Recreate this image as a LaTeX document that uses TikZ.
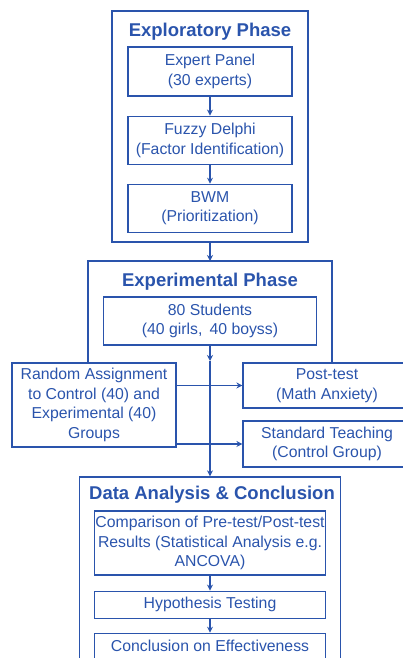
\documentclass[tikz,border=0pt]{standalone}
\usepackage{fontspec}
\setmainfont{Liberation Sans}
\usetikzlibrary{positioning,arrows.meta}
\definecolor{phaseblue}{RGB}{42,84,172}

\begin{document}
\begin{tikzpicture}[x=1pt,y=1pt,
    box/.style={draw=phaseblue,line width=1.1pt,text=phaseblue,align=center,inner sep=0pt,
      minimum width=164pt,font=\fontsize{15.8}{19.8}\selectfont},
    frame/.style={draw=phaseblue,line width=1.3pt,inner sep=0pt},
    phasetitle/.style={text=phaseblue,font=\bfseries\fontsize{18.5}{22}\selectfont},
    arr/.style={draw=phaseblue,line width=1.1pt,-{Stealth[length=6pt,width=6pt]}}]
  \useasboundingbox (0,0) rectangle (403,658);
  \clip (0,0) rectangle (403,658);

  % exploratory phase
  \node[frame,minimum width=196pt,minimum height=231pt] (explor) at (210,531.5) {};
  \node[phasetitle] (explortitle) at (210,626) {Exploratory Phase};
  \node[box,minimum height=49pt] (panel) at (210,586.5) {Expert Panel\\(30 experts)};
  \node[box,minimum height=48pt,below=19pt of panel] (delphi) {Fuzzy Delphi\\(Factor Identification)};
  \node[box,minimum height=48pt,below=19pt of delphi] (bwm) {BWM\\(Prioritization)};
  \draw[arr] (panel) -- (delphi);
  \draw[arr] (delphi) -- (bwm);

  % experimental phase
  \coordinate (expTL) at (88,397);
  \coordinate (expTR) at (332,397);
  \coordinate (exptop) at (210,397);
  \node[phasetitle] (exptitle) at (210,376) {Experimental Phase};
  \node[box,minimum width=213pt,minimum height=48pt] (students) at (210,337) {80 Students\\(40 girls,\, 40 boyss)};
  \node[box,minimum height=84pt] (random) at (94,253) {Random Assignment\\to Control (40) and\\Experimental (40)\\Groups};
  \node[box,minimum width=168pt,minimum height=45pt] (posttest) at (327,272.5) {Post-test\\(Math Anxiety)};
  \node[box,minimum width=168pt,minimum height=46pt] (standard) at (327,214) {Standard Teaching\\(Control Group)};
  \draw[frame] (random.north -| expTL) -- (expTL) -- (expTR) -- (posttest.north -| expTR);
  \draw[arr] (explor) -- (exptop);
  \draw[arr] (random.east |- posttest.west) -- (posttest.west);
  \draw[arr] (random.east |- standard.west) -- (standard.west);

  % data analysis
  \coordinate (split) at (210,297);
  \node[frame,minimum width=261pt,minimum height=200pt] (datafr) at (210,81) {};
  \node[phasetitle] (datatitle) at (212,163) {Data Analysis \& Conclusion};
  \node[box,minimum width=231pt,minimum height=64pt] (compare) at (210,115) {Comparison of Pre-test/Post-test\\Results (Statistical Analysis e.g.\\ANCOVA)};
  \node[box,minimum width=231pt,minimum height=27pt,below=15pt of compare] (hypo) {Hypothesis Testing};
  \node[box,minimum width=231pt,minimum height=26pt,below=14pt of hypo] (concl) {Conclusion on Effectiveness};
  \draw[arr] (students) -- (split);
  \draw[arr] (split) -- (datafr);
  \draw[arr] (compare) -- (hypo);
  \draw[arr] (hypo) -- (concl);
\end{tikzpicture}
\end{document}
